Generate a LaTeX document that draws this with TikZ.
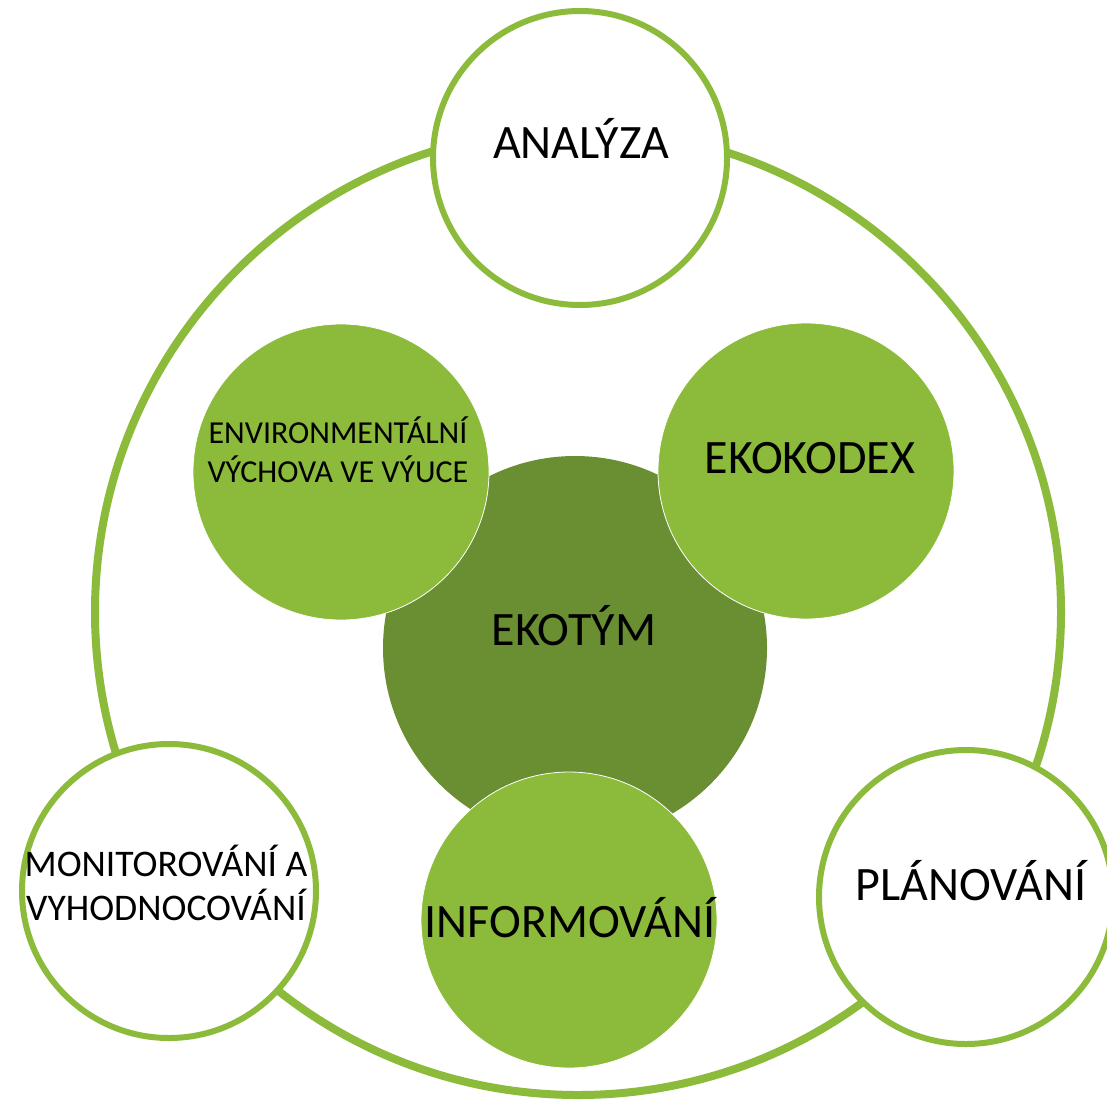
\documentclass[tikz,border=0pt]{standalone}
\usepackage{fontspec}
\setmainfont{Carlito}
\definecolor{lgreen}{RGB}{140,187,60}
\definecolor{dgreen}{RGB}{106,143,50}
\begin{document}
\begin{tikzpicture}[x=1pt,y=-1pt,
  ringline/.style={draw=lgreen,line width=8pt},
  wcirc/.style={circle,draw=lgreen,fill=white,line width=6pt,inner sep=0pt,minimum size=294pt},
  gcirc/.style={circle,fill=lgreen,draw=white,line width=0.8pt,inner sep=0pt,minimum size=296pt},
  dcirc/.style={circle,fill=dgreen,inner sep=0pt,minimum size=384pt},
  big/.style={font=\fontsize{48}{56}\selectfont,inner sep=0pt,anchor=base},
  mid/.style={font=\fontsize{37.6}{44}\selectfont,inner sep=0pt,align=center,anchor=base},
  small/.style={font=\fontsize{32}{39}\selectfont,inner sep=0pt,align=center,anchor=base}]
\useasboundingbox (0,0) rectangle (1107,1105);
\fill[white] (0,0) rectangle (1107,1105);
% outer ring
\coordinate (rc) at (578,612);
\draw[ringline] (rc) circle[radius=483pt];
% outer white circles
\node[wcirc] (analyza) at (580,158) {};
\node[wcirc] (planovani) at (966,897) {};
\node[wcirc] (monitor) at (169,891) {};
% inner green circles
\node[dcirc] (ekotym) at (575,648) {};
\node[gcirc] (env) at (341,472) {};
\node[gcirc] (ekokodex) at (806,471) {};
\node[gcirc] (inform) at (569,920) {};
% labels
\node[big] (tA) at (581,158) {ANALÝZA};
\node[big] (tP) at (971,900) {PLÁNOVÁNÍ};
\node[big] (tT) at (574,645) {EKOTÝM};
\node[big] (tK) at (810,473) {EKOKODEX};
\node[big] (tI) at (570,937) {INFORMOVÁNÍ};
\node[mid] (tM) at (166,920) {MONITOROVÁNÍ A\\VYHODNOCOVÁNÍ};
\node[small] (tE) at (338,482) {ENVIRONMENTÁLNÍ\\VÝCHOVA VE VÝUCE};
\end{tikzpicture}
\end{document}
